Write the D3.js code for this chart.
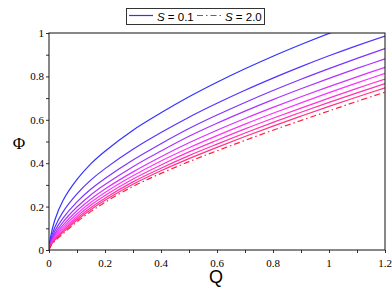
<!DOCTYPE html>
<html>
<head>
<meta charset="utf-8">
<script src="https://cdn.jsdelivr.net/npm/d3@7"></script>
<style>
  html, body { margin: 0; padding: 0; background: #fff; }
  svg { display: block; }
  svg text.serif { font-family: "Liberation Serif", "Times New Roman", Times, "DejaVu Serif", serif; }
  svg text.sans { font-family: "Liberation Sans", Arial, Helvetica, sans-serif; }
</style>
</head>
<body>
<div id="chart"></div>
<script>
// Q grid and Phi values, one array per S curve
const qValues = [0, 0.005, 0.02, 0.05, 0.1, 0.15, 0.2, 0.3, 0.4, 0.5, 0.6, 0.7, 0.8, 0.9, 1.0, 1.1, 1.2];
const phiS01 = [0, 0.055, 0.135, 0.228, 0.325, 0.398, 0.455, 0.552, 0.632, 0.706, 0.773, 0.835, 0.893, 0.947, 0.998, 1.046, 1.092];
const phiC2  = [0, 0.041, 0.103, 0.176, 0.259, 0.323, 0.375, 0.464, 0.541, 0.612, 0.676, 0.736, 0.792, 0.845, 0.895, 0.942, 0.986];
const phiC3  = [0, 0.034, 0.085, 0.147, 0.222, 0.281, 0.330, 0.415, 0.490, 0.560, 0.622, 0.680, 0.735, 0.787, 0.836, 0.883, 0.928];
const phiC4  = [0, 0.029, 0.073, 0.129, 0.198, 0.255, 0.302, 0.384, 0.456, 0.524, 0.584, 0.640, 0.693, 0.743, 0.791, 0.837, 0.881];
const phiC5  = [0, 0.025, 0.065, 0.115, 0.181, 0.235, 0.281, 0.360, 0.430, 0.494, 0.552, 0.606, 0.657, 0.706, 0.753, 0.798, 0.842];
const phiC6  = [0, 0.023, 0.058, 0.104, 0.167, 0.220, 0.265, 0.342, 0.410, 0.471, 0.527, 0.580, 0.630, 0.678, 0.725, 0.770, 0.814];
const phiC7  = [0, 0.020, 0.052, 0.095, 0.155, 0.207, 0.251, 0.327, 0.392, 0.452, 0.506, 0.558, 0.607, 0.654, 0.700, 0.745, 0.788];
const phiC8  = [0, 0.018, 0.048, 0.087, 0.146, 0.196, 0.239, 0.314, 0.377, 0.435, 0.488, 0.539, 0.588, 0.635, 0.680, 0.724, 0.767];
const phiC9  = [0, 0.017, 0.044, 0.081, 0.138, 0.187, 0.229, 0.303, 0.365, 0.421, 0.473, 0.523, 0.571, 0.617, 0.662, 0.705, 0.747];
const phiS20 = [0, 0.015, 0.040, 0.075, 0.130, 0.178, 0.220, 0.293, 0.353, 0.407, 0.457, 0.505, 0.552, 0.597, 0.641, 0.685, 0.727];

const curves = [phiS01, phiC2, phiC3, phiC4, phiC5, phiC6, phiC7, phiC8, phiC9, phiS20];
const curveHues = [240, 250, 262, 275, 288, 300, 312, 323, 335, 352];

const xTicks = [0, 0.2, 0.4, 0.6, 0.8, 1, 1.2];
const yTicks = [0, 0.2, 0.4, 0.6, 0.8, 1];
const legendLabels = ["0.1", "2.0"];

const width = 392, height = 290;
const margin = { top: 33, right: 7, bottom: 40, left: 49 };
const innerWidth = width - margin.left - margin.right;
const innerHeight = height - margin.top - margin.bottom;

const svg = d3.select("#chart").append("svg")
  .attr("width", width)
  .attr("height", height);

const x = d3.scaleLinear().domain([0, 1.2]).range([0, innerWidth]);
const y = d3.scaleLinear().domain([0, 1]).range([innerHeight, 0]);

const g = svg.append("g").attr("transform", `translate(${margin.left},${margin.top})`);

svg.append("defs").append("clipPath").attr("id", "plot-clip")
  .append("rect").attr("width", innerWidth).attr("height", innerHeight);

const colorOf = (i) => d3.hsl(curveHues[i], 1, i === curves.length - 1 ? 0.56 : 0.6).toString();

const line = d3.line()
  .x((d, i) => x(qValues[i]))
  .y((d) => y(d))
  .curve(d3.curveCatmullRom.alpha(0.5));

g.append("g").attr("clip-path", "url(#plot-clip)")
  .selectAll("path")
  .data(curves)
  .join("path")
  .attr("d", line)
  .attr("fill", "none")
  .attr("stroke", (d, i) => colorOf(i))
  .attr("stroke-width", 1.2)
  .attr("stroke-dasharray", (d, i) => i === curves.length - 1 ? "6,3,1.5,3" : null);

// axes: minor ticks every 0.1, labels every 0.2
const gx = g.append("g").attr("transform", `translate(0,${innerHeight})`)
  .call(d3.axisBottom(x).tickValues(d3.range(0, 1.21, 0.1)).tickSize(3).tickFormat(""));
const gy = g.append("g")
  .call(d3.axisLeft(y).tickValues(d3.range(0, 1.01, 0.1)).tickSize(3).tickFormat(""));
[gx, gy].forEach((a) => {
  a.select(".domain").remove();
  a.selectAll("line").attr("stroke", "#333");
});

g.selectAll(".xlab").data(xTicks).join("text")
  .attr("class", "xlab serif")
  .attr("x", (d) => x(d))
  .attr("y", innerHeight + 17)
  .attr("text-anchor", "middle")
  .attr("font-size", 11)
  .text((d) => d3.format("~g")(d));

g.selectAll(".ylab").data(yTicks).join("text")
  .attr("class", "ylab serif")
  .attr("x", -5)
  .attr("y", (d) => y(d) + 4)
  .attr("text-anchor", "end")
  .attr("font-size", 11)
  .text((d) => d3.format("~g")(d));

g.append("rect")
  .attr("width", innerWidth)
  .attr("height", innerHeight)
  .attr("fill", "none")
  .attr("stroke", "#111")
  .attr("stroke-width", 1);

svg.append("text")
  .attr("class", "sans")
  .attr("x", margin.left + innerWidth / 2 - 1)
  .attr("y", 283)
  .attr("text-anchor", "middle")
  .attr("font-size", 18)
  .text("Q");

svg.append("text")
  .attr("class", "serif")
  .attr("x", 19)
  .attr("y", 149)
  .attr("text-anchor", "middle")
  .attr("font-size", 17)
  .text("Φ");

// legend
const legend = svg.append("g");
legend.append("rect")
  .attr("x", 126.5).attr("y", 8.5)
  .attr("width", 138).attr("height", 16)
  .attr("fill", "#fff").attr("stroke", "#333").attr("stroke-width", 1);

const legendX = [129, 197];
legendLabels.forEach((lab, i) => {
  const idx = i === 0 ? 0 : curves.length - 1;
  legend.append("line")
    .attr("x1", legendX[i]).attr("x2", legendX[i] + 24)
    .attr("y1", 15.5).attr("y2", 15.5)
    .attr("stroke", colorOf(idx))
    .attr("stroke-width", 1.2)
    .attr("stroke-dasharray", i === 1 ? "6,3,1.5,3" : null);
  const t = legend.append("text")
    .attr("class", "sans")
    .attr("x", legendX[i] + 28).attr("y", 20.5)
    .attr("font-size", 11.5);
  t.append("tspan").attr("font-style", "italic").text("S");
  t.append("tspan").text(` = ${lab}`);
});
</script>
</body>
</html>
